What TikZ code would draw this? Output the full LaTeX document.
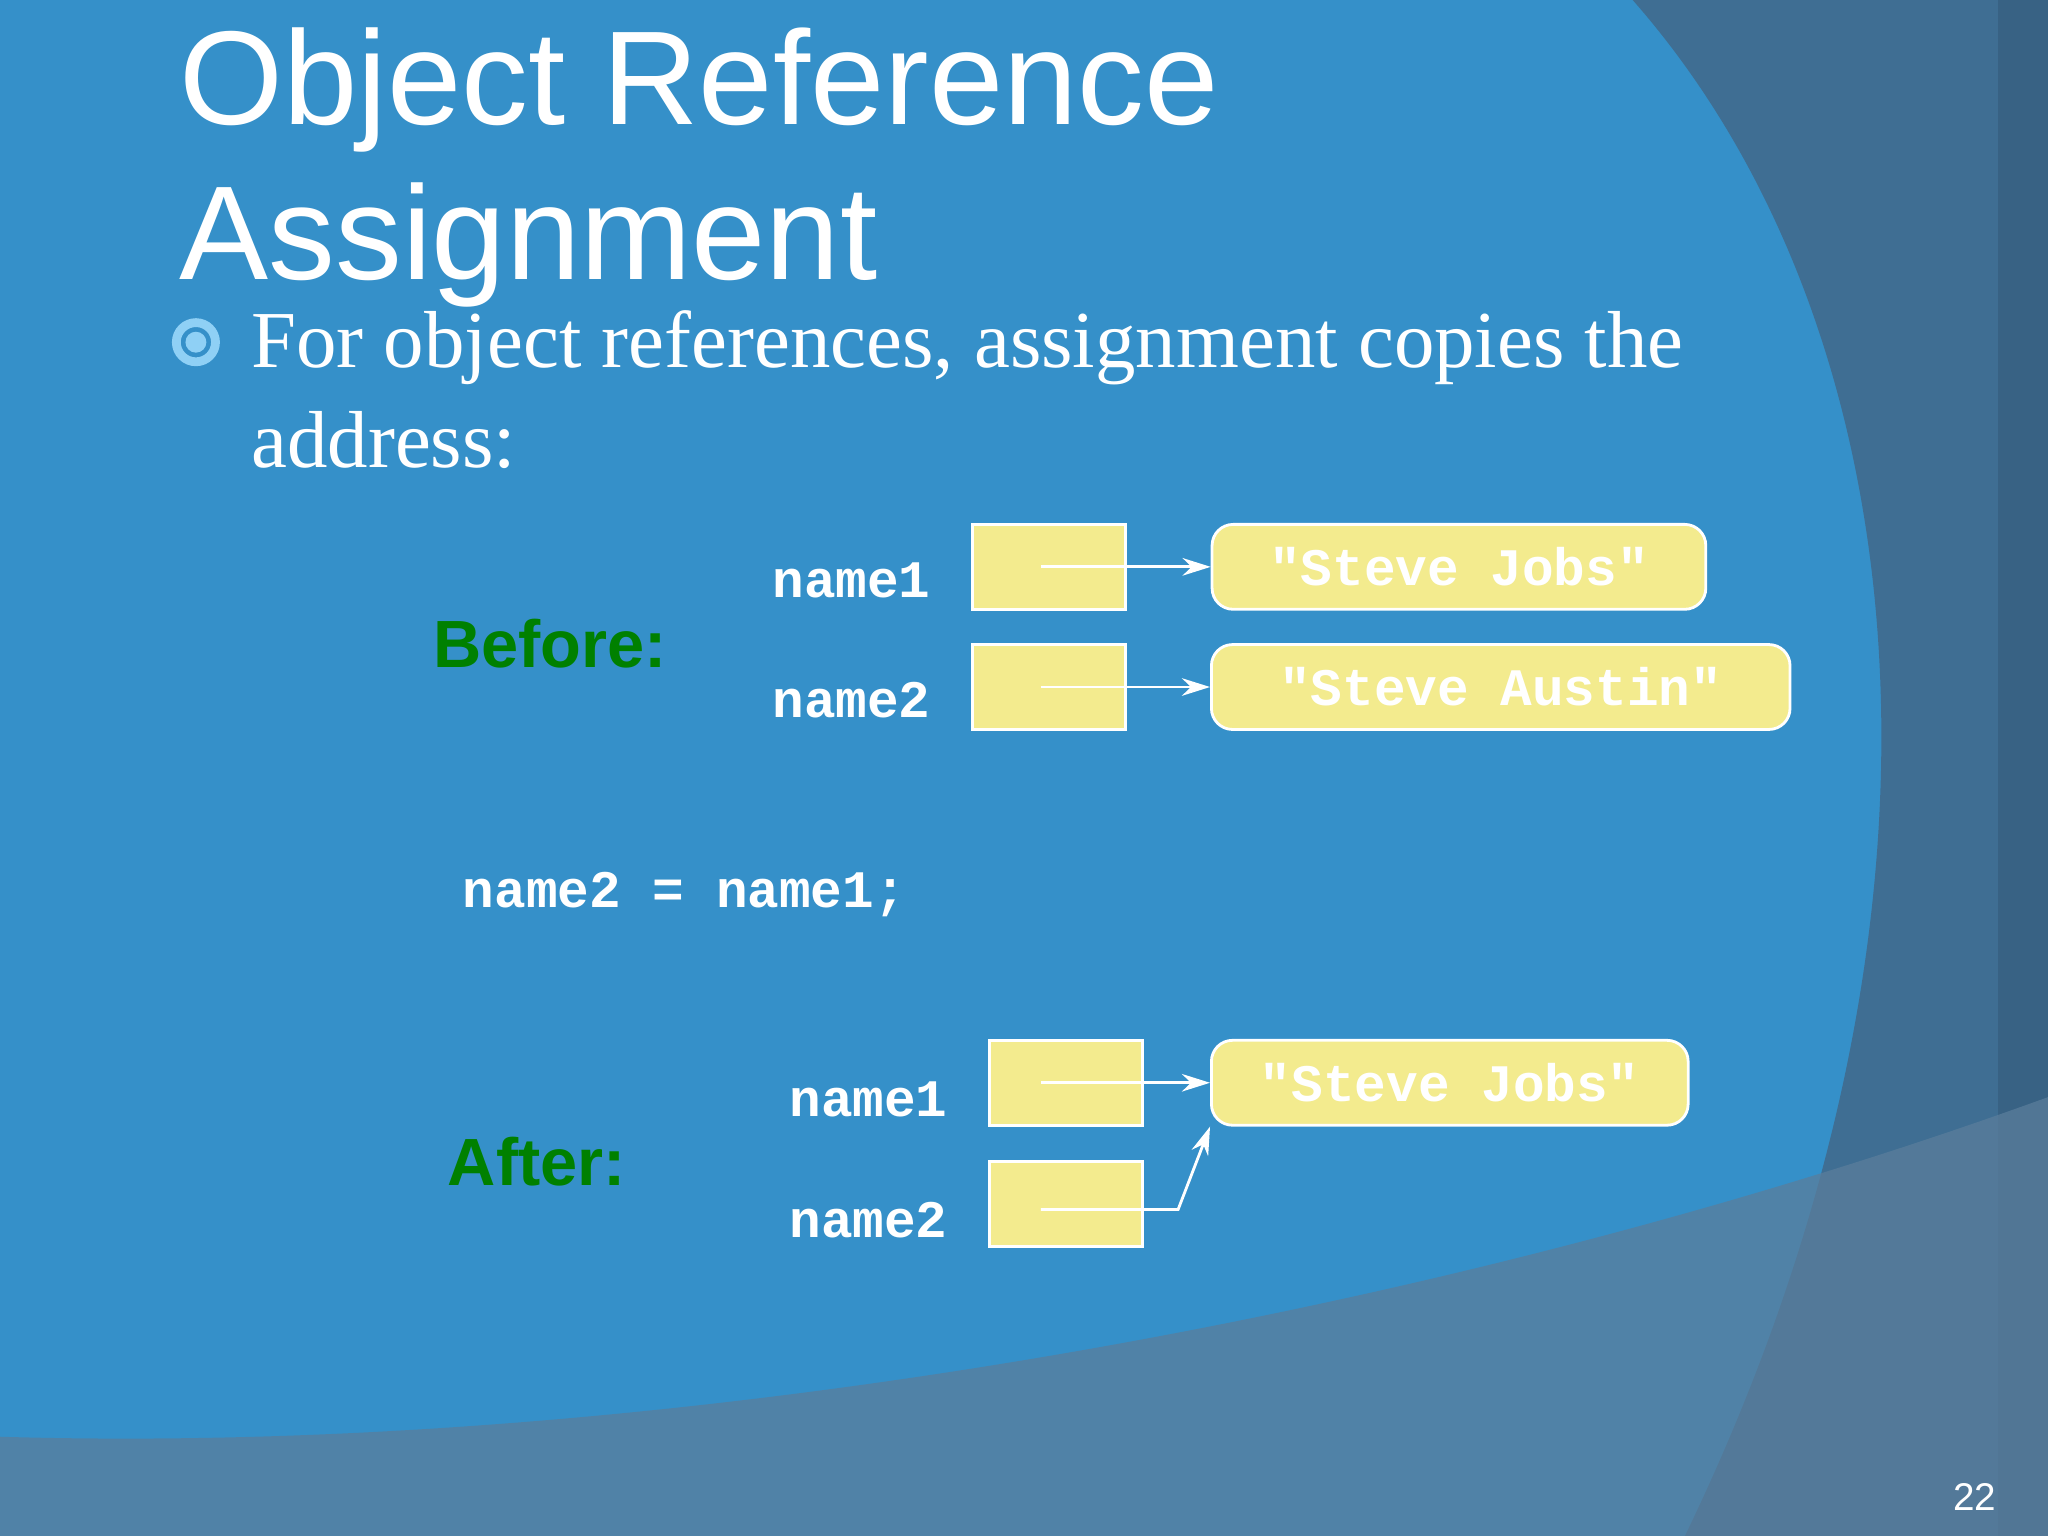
\documentclass[tikz,border=0pt]{standalone}
\usepackage{fontspec}
\setmainfont{Liberation Serif}
\newfontfamily\sans{Liberation Sans}
\newfontfamily\mono{Liberation Mono}
\usetikzlibrary{arrows.meta}
\definecolor{bg}{HTML}{3590C9}
\definecolor{darkA}{HTML}{3F6E93}
\definecolor{botB}{HTML}{5A7E9C}
\definecolor{boxy}{HTML}{F3EB8E}
\definecolor{ring}{HTML}{8FD0F5}
\begin{document}
\begin{tikzpicture}[x=0.013061cm,y=-0.013061cm,
  ref/.style={fill=boxy,draw=white,line width=0.8pt,minimum width=117*0.013061cm,minimum height=65*0.013061cm,inner sep=0pt},
  str/.style={fill=boxy,draw=white,line width=0.8pt,rounded corners=6pt,minimum height=65*0.013061cm,inner sep=0pt,text=white,font=\mono\bfseries\fontsize{15}{18}\selectfont},
  lab/.style={text=white,font=\mono\bfseries\fontsize{15}{18}\selectfont,anchor=east},
  ptr/.style={white,line width=0.8pt,-{Stealth[length=8pt,width=5pt]}},
  phase/.style={text=green!50!black,font=\sans\bfseries\fontsize{19}{22}\selectfont}]
\useasboundingbox (0,0) rectangle (1568,1176);
\fill[bg] (0,0) rectangle (1568,1176);
\fill[darkA] (1250,0) .. controls (1470,250) and (1520,700) .. (1290,1176) -- (1568,1176) -- (1568,0) -- cycle;
\fill[darkA!80!black,opacity=0.5] (1530,0) -- (1568,0) -- (1568,1176) -- (1530,1176) -- cycle;
\fill[botB,opacity=0.75] (0,1100) .. controls (500,1115) and (1100,1010) .. (1568,840) -- (1568,1176) -- (0,1176) -- cycle;
\node[anchor=west,text=white,font=\sans\fontsize{38}{44}\selectfont,align=left] (title) at (128,128) {Object Reference\\Assignment};
\draw[ring,line width=2.5pt] (150,262) circle (15);
\fill[ring] (150,262) circle (8);
\node[anchor=west,text=white,font=\fontsize{23}{28.5}\selectfont,align=left] (bul) at (183,298) {For object references, assignment copies the\\address:};
% before
\node[phase] (before) at (421,493) {Before:};
\node[ref] (r1) at (803,434) {};
\node[ref] (r2) at (803,526) {};
\node[lab] (l1) at (722,444) {name1};
\node[lab] (l2) at (722,536) {name2};
\node[str,minimum width=378*0.013061cm] (s1) at (1117,434) {"Steve Jobs"};
\node[str,minimum width=443*0.013061cm] (s2) at (1149,526) {"Steve Austin"};
\coordinate (p1) at (797,434); \coordinate (p2) at (797,526);
\draw[ptr] (p1) -- (s1.west);
\draw[ptr] (p2) -- (s2.west);
\node[text=white,font=\mono\bfseries\fontsize{15}{18}\selectfont] (code) at (524,685) {name2 = name1;};
% after
\node[phase] (after) at (411,889) {After:};
\node[ref] (a1) at (816,829) {};
\node[ref] (a2) at (816,922) {};
\node[lab] (m1) at (735,842) {name1};
\node[lab] (m2) at (735,934) {name2};
\node[str,minimum width=365*0.013061cm] (t1) at (1110,829) {"Steve Jobs"};
\coordinate (q1) at (797,829); \coordinate (q2) at (797,926); \coordinate (k) at (902,926);
\draw[ptr] (q1) -- (t1.west);
\draw[ptr] (q2) -- (k) -- (t1.south west);
\node[text=white,font=\sans\fontsize{11}{13}\selectfont] (pg) at (1512,1146) {22};
\end{tikzpicture}
\end{document}
